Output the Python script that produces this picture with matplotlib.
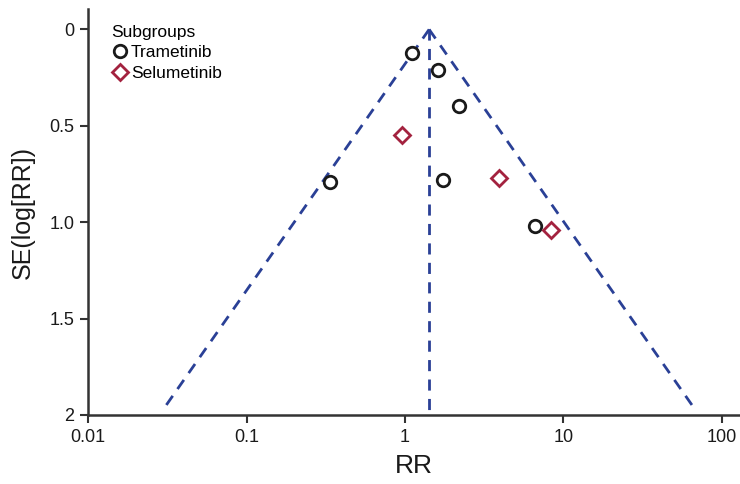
import matplotlib
matplotlib.use("Agg")
import matplotlib.pyplot as plt
import numpy as np

# Data
tram_rr = [1.10, 1.61, 2.18, 0.334, 1.73, 6.57]
tram_se = [0.12, 0.21, 0.396, 0.794, 0.783, 1.02]
selu_rr = [0.96, 3.92, 8.29]
selu_se = [0.55, 0.771, 1.039]
pooled_rr = 1.42
se_max = 1.97
xticks = [0.01, 0.1, 1, 10, 100]
xticklabels = ["0.01", "0.1", "1", "10", "100"]
yticks = [0, 0.5, 1.0, 1.5, 2]
yticklabels = ["0", "0.5", "1.0", "1.5", "2"]

narrow = ["Liberation Sans Narrow", "Liberation Sans", "DejaVu Sans"]
plt.rcParams['font.family'] = ["Liberation Sans", "DejaVu Sans"]

fig = plt.figure(figsize=(7.4, 4.84), dpi=100)
ax = fig.add_axes([0.119, 0.1426, 0.881, 0.8384])

blue = "#2a4096"
spine_c = "#333333"

# funnel
se = np.array([0, se_max])
lo = np.exp(np.log(pooled_rr) - 1.96 * se)
hi = np.exp(np.log(pooled_rr) + 1.96 * se)
ax.plot(lo, se, ls=(0, (4, 3)), color=blue, lw=2)
ax.plot(hi, se, ls=(0, (4, 3)), color=blue, lw=2)
ax.plot([pooled_rr, pooled_rr], [0, 2], ls=(0, (4, 3)), color=blue, lw=2)

ax.plot(tram_rr, tram_se, ls="none", marker="o", ms=9, mfc="white", mec="#1a1a1a", mew=2, label="Trametinib", zorder=3)
ax.plot(selu_rr, selu_se, ls="none", marker="D", ms=8, mfc="white", mec="#a3223f", mew=2, label="Selumetinib", zorder=3)

ax.set_xscale("log")
ax.set_xlim(0.01, 130)
ax.set_ylim(2, -0.105)
ax.set_xticks(xticks)
ax.set_xticklabels(xticklabels, fontfamily=narrow, fontsize=13)
ax.set_yticks(yticks)
ax.set_yticklabels(yticklabels, fontfamily=narrow, fontsize=13)
ax.minorticks_off()
ax.tick_params(axis="both", direction="out", length=6, width=1.5, color=spine_c, labelcolor="#1a1a1a", pad=4)

for s in ["top", "right"]:
    ax.spines[s].set_visible(False)
for s in ["left", "bottom"]:
    ax.spines[s].set_color(spine_c)
    ax.spines[s].set_linewidth(1.8)

ax.set_xlabel("RR", fontfamily=narrow, fontsize=19, color="#1a1a1a", labelpad=6)
ax.set_ylabel("SE(log[RR])", fontfamily=narrow, fontsize=18, color="#1a1a1a", labelpad=10)

leg = ax.legend(title="Subgroups", loc="upper left", bbox_to_anchor=(0.138, 0.966),
                bbox_transform=fig.transFigure, frameon=False, fontsize=12.5,
                title_fontsize=12.5, handletextpad=0.05, handlelength=1.1,
                borderpad=0, labelspacing=0.3, alignment="left")

fig.savefig("out.png", dpi=100)
